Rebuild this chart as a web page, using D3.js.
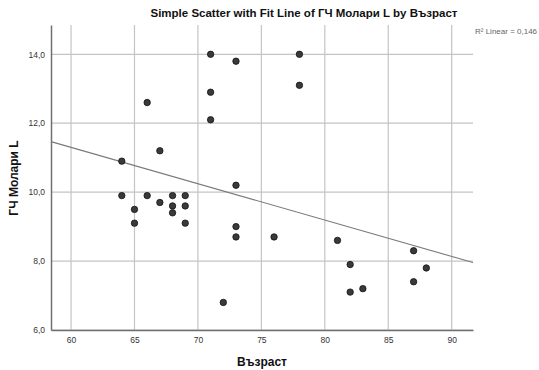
<!DOCTYPE html>
<html>
<head>
<meta charset="utf-8">
<script src="https://cdn.jsdelivr.net/npm/d3@7"></script>
<style>
  body { margin: 0; background: #fff; }
  text { font-family: "Liberation Sans", Arial, sans-serif; }
</style>
</head>
<body>
<div class="canvas"></div>
<script>
// data
const age = [71, 73, 78, 78, 66, 71, 71, 67, 64, 73,
             64, 66, 68, 69, 67, 68, 69, 65, 68, 65,
             69, 73, 73, 76, 72, 81, 82, 82, 83, 87, 88, 87];
const molarL = [14.0, 13.8, 14.0, 13.1, 12.6, 12.9, 12.1, 11.2, 10.9, 10.2,
                9.9, 9.9, 9.9, 9.9, 9.7, 9.6, 9.6, 9.5, 9.4, 9.1,
                9.1, 9.0, 8.7, 8.7, 6.8, 8.6, 7.9, 7.1, 7.2, 8.3, 7.8, 7.4];
const xTicks = [60, 65, 70, 75, 80, 85, 90];
const yTicks = [6, 8, 10, 12, 14];
const rSquareLabel = 'R\u00b2 Linear = 0,146';

const dims = { width: 539, height: 370 };
const plot = { left: 51, right: 473, top: 25, bottom: 330 };

const svg = d3.select('.canvas')
    .append('svg')
    .attr('width', dims.width)
    .attr('height', dims.height);

const x = d3.scaleLinear().domain([58.42, 91.68]).range([plot.left, plot.right]);
const y = d3.scaleLinear().domain([6, 14.85]).range([plot.bottom, plot.top]);

const fmt = d => d.toFixed(1).replace('.', ',');

// grid
svg.append('g').selectAll('line')
    .data(xTicks)
    .enter().append('line')
    .attr('x1', d => x(d)).attr('x2', d => x(d))
    .attr('y1', plot.top).attr('y2', plot.bottom)
    .attr('stroke', '#c4c4c4').attr('stroke-width', 1.2);

svg.append('g').selectAll('line')
    .data(yTicks)
    .enter().append('line')
    .attr('x1', plot.left).attr('x2', plot.right)
    .attr('y1', d => y(d)).attr('y2', d => y(d))
    .attr('stroke', '#c4c4c4').attr('stroke-width', 1.2);

// axes
const xAxis = svg.append('g')
    .attr('transform', `translate(0,${plot.bottom})`)
    .call(d3.axisBottom(x).tickValues(xTicks).tickSize(0).tickPadding(7));
const yAxis = svg.append('g')
    .attr('transform', `translate(${plot.left},0)`)
    .call(d3.axisLeft(y).tickValues(yTicks).tickFormat(fmt).tickSize(0).tickPadding(6));

[xAxis, yAxis].forEach(a => {
    a.select('.domain').attr('stroke', '#707070').attr('stroke-width', 1.5);
    a.selectAll('text').attr('fill', '#333').style('font-size', '8.5px');
});

// fit line (least squares)
const mx = d3.mean(age), my = d3.mean(molarL);
const sxy = d3.sum(age, (a, i) => (a - mx) * (molarL[i] - my));
const sxx = d3.sum(age, a => (a - mx) * (a - mx));
const slope = sxy / sxx;
const icpt = my - slope * mx;
const dom = x.domain();

svg.append('line')
    .attr('x1', x(dom[0])).attr('y1', y(icpt + slope * dom[0]))
    .attr('x2', x(dom[1])).attr('y2', y(icpt + slope * dom[1]))
    .attr('stroke', '#7a7a7a').attr('stroke-width', 1.1);

// points
svg.append('g').selectAll('circle')
    .data(age.map((a, i) => ({ a, v: molarL[i] })))
    .enter().append('circle')
    .attr('cx', d => x(d.a))
    .attr('cy', d => y(d.v))
    .attr('r', 3.2)
    .attr('fill', '#3a3a3a')
    .attr('stroke', '#111')
    .attr('stroke-width', 0.8);

// texts
svg.append('text')
    .attr('x', 304).attr('y', 17)
    .attr('text-anchor', 'middle')
    .style('font-size', '11.5px').style('font-weight', 'bold')
    .attr('fill', '#111')
    .text('Simple Scatter with Fit Line of ГЧ Молари L by Възраст');

svg.append('text')
    .attr('x', 475).attr('y', 34)
    .style('font-size', '8px')
    .attr('fill', '#666')
    .text(rSquareLabel);

svg.append('text')
    .attr('x', 262).attr('y', 366)
    .attr('text-anchor', 'middle')
    .style('font-size', '12px').style('font-weight', 'bold')
    .attr('fill', '#111')
    .text('Възраст');

svg.append('text')
    .attr('transform', 'translate(18,178) rotate(-90)')
    .attr('text-anchor', 'middle')
    .style('font-size', '12px').style('font-weight', 'bold')
    .attr('fill', '#111')
    .text('ГЧ Молари L');
</script>
</body>
</html>
